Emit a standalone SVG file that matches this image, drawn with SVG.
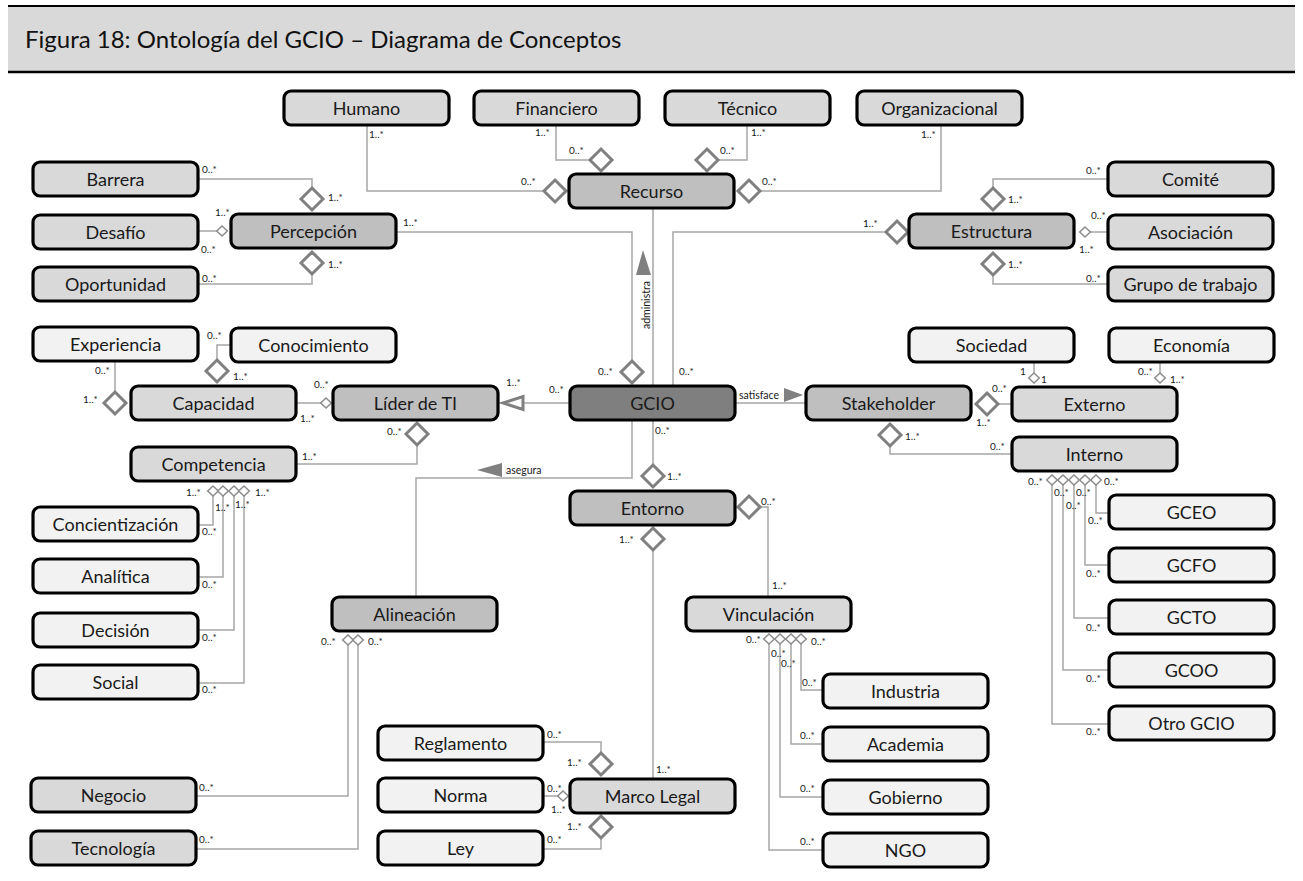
<svg xmlns="http://www.w3.org/2000/svg" xmlns:xlink="http://www.w3.org/1999/xlink" width="1303" height="881" viewBox="0 0 1303 881">
  <style>
    .n { stroke: #000; stroke-width: 3.2; }
    .c1 { fill: #f2f2f2; }
    .c2 { fill: #d9d9d9; }
    .c3 { fill: #bfbfbf; }
    .c4 { fill: #7f7f7f; }
    .t { font-family: Lato, "Liberation Sans", sans-serif; font-size: 18px; text-anchor: middle; fill: #1a1a1a; }
    .m { font-family: Lato, "Liberation Sans", sans-serif; font-size: 10px; fill: #1a1a1a; }
    .lbl { font-family: Lato, "Liberation Sans", sans-serif; font-size: 10.5px; fill: #1a1a1a; }
    .ln { fill: none; stroke: #a6a6a6; stroke-width: 1.5; }
    .bd { fill: #fff; stroke: #808080; stroke-width: 3; }
    .sd { fill: #fff; stroke: #8c8c8c; stroke-width: 1.5; }
    .arr { fill: #808080; stroke: none; }
    .gen { fill: #fff; stroke: #808080; stroke-width: 3; }
    .title { font-family: Lato, "Liberation Sans", sans-serif; font-size: 24px; fill: #111; }
  </style>
  <defs>
    <!-- aggregation diamonds: big and small -->
    <path id="bd" d="M0,-11 L11,0 L0,11 L-11,0 Z"/>
    <path id="sd" d="M0,-5 L5.3,0 L0,5 L-5.3,0 Z"/>
    <rect id="box" x="1" y="1" width="165" height="34" rx="7" ry="7"/>
  </defs>

  <rect width="1303" height="881" fill="#fff"/>

  <!-- header band -->
  <g id="header">
    <rect x="8" y="6" width="1287" height="66" fill="#d9d9d9"/>
    <line x1="8" y1="6" x2="1295" y2="6" stroke="#000" stroke-width="2"/>
    <line x1="8" y1="72" x2="1295" y2="72" stroke="#000" stroke-width="2.5"/>
    <text class="title" x="25" y="48">Figura 18: Ontología del GCIO – Diagrama de Conceptos</text>
  </g>

  <!-- connectors -->
  <g id="connectors">
    <path class="ln" d="M367,126 V191 H543"/>
    <path class="ln" d="M556,126 V160 H590"/>
    <path class="ln" d="M747,126 V160 H718"/>
    <path class="ln" d="M941,126 V191 H761"/>
    <path class="ln" d="M197,179 H312 V188"/>
    <path class="ln" d="M197,231 H217"/>
    <path class="ln" d="M312,274 V284 H197"/>
    <path class="ln" d="M395,232 H632 V361"/>
    <path class="ln" d="M653,209 V385"/>
    <path class="ln" d="M673,385 V232 H886"/>
    <path class="ln" d="M1107,179 H993 V188"/>
    <path class="ln" d="M1090,232 H1107"/>
    <path class="ln" d="M993,275 V284 H1107"/>
    <path class="ln" d="M115,362 V392"/>
    <path class="ln" d="M217,360 V345 H230"/>
    <path class="ln" d="M297,403 H321"/>
    <path class="ln" d="M417,445 V464 H297"/>
    <path class="ln" d="M569,403 H524"/>
    <path class="ln" d="M735,403 H805"/>
    <path class="ln" d="M632,421 V478 H416 V596"/>
    <path class="ln" d="M653,421 V465"/>
    <path class="ln" d="M760,507 H768 V596"/>
    <path class="ln" d="M653,550 V778"/>
    <path class="ln" d="M544,742 H601 V753"/>
    <path class="ln" d="M544,796 H558"/>
    <path class="ln" d="M601,838 V849 H544"/>
    <path class="ln" d="M769,644 V850 H822"/>
    <path class="ln" d="M780,644 V797 H822"/>
    <path class="ln" d="M791,644 V744 H822"/>
    <path class="ln" d="M801,644 V690 H822"/>
    <path class="ln" d="M1052,485 V724 H1108"/>
    <path class="ln" d="M1063,485 V670 H1108"/>
    <path class="ln" d="M1074,485 V618 H1108"/>
    <path class="ln" d="M1085,485 V565 H1108"/>
    <path class="ln" d="M1096,485 V513 H1108"/>
    <path class="ln" d="M998,404 H1011"/>
    <path class="ln" d="M890,446 V454 H1011"/>
    <path class="ln" d="M1034,363 V373"/>
    <path class="ln" d="M1160,363 V373"/>
    <path class="ln" d="M213,496 V525 H198"/>
    <path class="ln" d="M223,496 V577 H198"/>
    <path class="ln" d="M234,496 V630 H198"/>
    <path class="ln" d="M244,496 V683 H198"/>
    <path class="ln" d="M348,645 V796 H196"/>
    <path class="ln" d="M358,645 V849 H196"/>

    <!-- big aggregation diamonds -->
    <use xlink:href="#bd" class="bd" x="555" y="191"/>
    <use xlink:href="#bd" class="bd" x="601" y="160"/>
    <use xlink:href="#bd" class="bd" x="707" y="160"/>
    <use xlink:href="#bd" class="bd" x="749" y="191"/>
    <use xlink:href="#bd" class="bd" x="312" y="199"/>
    <use xlink:href="#bd" class="bd" x="312" y="263"/>
    <use xlink:href="#bd" class="bd" x="632" y="372"/>
    <use xlink:href="#bd" class="bd" x="897" y="232"/>
    <use xlink:href="#bd" class="bd" x="993" y="199"/>
    <use xlink:href="#bd" class="bd" x="993" y="264"/>
    <use xlink:href="#bd" class="bd" x="115" y="403"/>
    <use xlink:href="#bd" class="bd" x="217" y="371"/>
    <use xlink:href="#bd" class="bd" x="417" y="434"/>
    <use xlink:href="#bd" class="bd" x="653" y="476"/>
    <use xlink:href="#bd" class="bd" x="749" y="507"/>
    <use xlink:href="#bd" class="bd" x="653" y="539"/>
    <use xlink:href="#bd" class="bd" x="601" y="764"/>
    <use xlink:href="#bd" class="bd" x="601" y="827"/>
    <use xlink:href="#bd" class="bd" x="987" y="404"/>
    <use xlink:href="#bd" class="bd" x="890" y="435"/>

    <!-- small aggregation diamonds -->
    <use xlink:href="#sd" class="sd" x="222" y="231"/>
    <use xlink:href="#sd" class="sd" x="1085" y="232"/>
    <use xlink:href="#sd" class="sd" x="326" y="403"/>
    <use xlink:href="#sd" class="sd" x="563" y="796"/>
    <use xlink:href="#sd" class="sd" x="1034" y="378"/>
    <use xlink:href="#sd" class="sd" x="1160" y="378"/>
    <use xlink:href="#sd" class="sd" x="769" y="639"/>
    <use xlink:href="#sd" class="sd" x="780" y="639"/>
    <use xlink:href="#sd" class="sd" x="791" y="639"/>
    <use xlink:href="#sd" class="sd" x="801" y="639"/>
    <use xlink:href="#sd" class="sd" x="1052" y="480"/>
    <use xlink:href="#sd" class="sd" x="1063" y="480"/>
    <use xlink:href="#sd" class="sd" x="1074" y="480"/>
    <use xlink:href="#sd" class="sd" x="1085" y="480"/>
    <use xlink:href="#sd" class="sd" x="1096" y="480"/>
    <use xlink:href="#sd" class="sd" x="213" y="491"/>
    <use xlink:href="#sd" class="sd" x="223" y="491"/>
    <use xlink:href="#sd" class="sd" x="234" y="491"/>
    <use xlink:href="#sd" class="sd" x="244" y="491"/>
    <use xlink:href="#sd" class="sd" x="348" y="640"/>
    <use xlink:href="#sd" class="sd" x="358" y="640"/>

    <!-- generalization GCIO -> Líder de TI -->
    <path class="gen" d="M503,403 L523,396.5 L523,409.5 Z"/>

    <!-- named associations with direction arrows -->
    <path class="arr" d="M643,250 L651,275 L636,275 Z"/>
    <text class="lbl" transform="translate(650,329) rotate(-90)">administra</text>
    <path class="arr" d="M803,395 L784,388 L784,402 Z"/>
    <text class="lbl" x="739" y="399">satisface</text>
    <path class="arr" d="M477,470 L502,463 L502,477 Z"/>
    <text class="lbl" x="506" y="474">asegura</text>

    <!-- multiplicities -->
    <g class="m">
      <text x="369" y="138">1..*</text><text x="521" y="185">0..*</text>
      <text x="535" y="136">1..*</text><text x="569" y="154">0..*</text>
      <text x="751" y="136">1..*</text><text x="720" y="154">0..*</text>
      <text x="921" y="138">1..*</text><text x="762" y="185">0..*</text>
      <text x="202" y="173">0..*</text><text x="328" y="201">1..*</text>
      <text x="215" y="216">1..*</text><text x="201" y="253">0..*</text>
      <text x="328" y="268">1..*</text><text x="202" y="282">0..*</text>
      <text x="403" y="226">1..*</text><text x="598" y="375">0..*</text>
      <text x="863" y="227">1..*</text><text x="679" y="375">0..*</text>
      <text x="1086" y="174">0..*</text><text x="1008" y="203">1..*</text>
      <text x="1091" y="219">0..*</text><text x="1079" y="253">1..*</text>
      <text x="1008" y="268">1..*</text><text x="1086" y="282">0..*</text>
      <text x="95" y="374">0..*</text><text x="83" y="403">1..*</text>
      <text x="207" y="339">0..*</text><text x="233" y="380">1..*</text>
      <text x="314" y="388">0..*</text><text x="300" y="422">1..*</text>
      <text x="387" y="435">0..*</text><text x="302" y="460">1..*</text>
      <text x="549" y="393">0..*</text><text x="506" y="386">1..*</text>
      <text x="655" y="434">0..*</text><text x="667" y="480">1..*</text>
      <text x="761" y="505">0..*</text><text x="772" y="589">1..*</text>
      <text x="619" y="543">1..*</text><text x="656" y="773">1..*</text>
      <text x="547" y="738">0..*</text><text x="567" y="766">1..*</text>
      <text x="547" y="792">0..*</text><text x="551" y="813">1..*</text>
      <text x="567" y="830">1..*</text><text x="547" y="843">0..*</text>
      <text x="746" y="643">0..*</text><text x="811" y="645">0..*</text>
      <text x="771" y="657">0..*</text><text x="781" y="667">0..*</text>
      <text x="802" y="686">0..*</text><text x="800" y="739">0..*</text>
      <text x="800" y="792">0..*</text><text x="800" y="845">0..*</text>
      <text x="1028" y="485">0..*</text><text x="1104" y="485">0..*</text>
      <text x="1054" y="496">0..*</text><text x="1066" y="509">0..*</text>
      <text x="1076" y="496">0..*</text>
      <text x="1088" y="524">0..*</text><text x="1086" y="577">0..*</text>
      <text x="1086" y="631">0..*</text><text x="1086" y="682">0..*</text>
      <text x="1086" y="735">0..*</text>
      <text x="992" y="392">0..*</text><text x="976" y="426">1..*</text>
      <text x="905" y="440">1..*</text><text x="990" y="450">0..*</text>
      <text x="1020" y="375">1</text><text x="1041" y="383">1</text>
      <text x="1138" y="375">0..*</text><text x="1170" y="383">1..*</text>
      <text x="186" y="496">1..*</text><text x="255" y="496">1..*</text>
      <text x="215" y="511">1..*</text><text x="235" y="508">1..*</text>
      <text x="202" y="535">0..*</text><text x="202" y="588">0..*</text>
      <text x="202" y="641">0..*</text><text x="202" y="693">0..*</text>
      <text x="321" y="645">0..*</text><text x="368" y="645">0..*</text>
      <text x="199" y="791">0..*</text><text x="199" y="843">0..*</text>
    </g>
  </g>

  <!-- nodes -->
  <g id="n-humano" transform="translate(283,90)"><use xlink:href="#box" class="n c2"/><text class="t" x="83.5" y="24.5">Humano</text></g>
  <g id="n-financiero" transform="translate(473,90)"><use xlink:href="#box" class="n c2"/><text class="t" x="83.5" y="24.5">Financiero</text></g>
  <g id="n-tecnico" transform="translate(664,90)"><use xlink:href="#box" class="n c2"/><text class="t" x="83.5" y="24.5">Técnico</text></g>
  <g id="n-organizacional" transform="translate(856,90)"><use xlink:href="#box" class="n c2"/><text class="t" x="83.5" y="24.5">Organizacional</text></g>
  <g id="n-recurso" transform="translate(568,173)"><use xlink:href="#box" class="n c3"/><text class="t" x="83.5" y="24.5">Recurso</text></g>
  <g id="n-barrera" transform="translate(32,161)"><use xlink:href="#box" class="n c2"/><text class="t" x="83.5" y="24.5">Barrera</text></g>
  <g id="n-desafio" transform="translate(32,214)"><use xlink:href="#box" class="n c2"/><text class="t" x="83.5" y="24.5">Desafío</text></g>
  <g id="n-oportunidad" transform="translate(32,266)"><use xlink:href="#box" class="n c2"/><text class="t" x="83.5" y="24.5">Oportunidad</text></g>
  <g id="n-percepcion" transform="translate(230,213)"><use xlink:href="#box" class="n c3"/><text class="t" x="83.5" y="24.5">Percepción</text></g>
  <g id="n-estructura" transform="translate(908,213)"><use xlink:href="#box" class="n c3"/><text class="t" x="83.5" y="24.5">Estructura</text></g>
  <g id="n-comite" transform="translate(1107,161)"><use xlink:href="#box" class="n c2"/><text class="t" x="83.5" y="24.5">Comité</text></g>
  <g id="n-asociacion" transform="translate(1107,214)"><use xlink:href="#box" class="n c2"/><text class="t" x="83.5" y="24.5">Asociación</text></g>
  <g id="n-grupo" transform="translate(1107,266)"><use xlink:href="#box" class="n c2"/><text class="t" x="83.5" y="24.5">Grupo de trabajo</text></g>
  <g id="n-experiencia" transform="translate(32,326)"><use xlink:href="#box" class="n c1"/><text class="t" x="83.5" y="24.5">Experiencia</text></g>
  <g id="n-conocimiento" transform="translate(230,327)"><use xlink:href="#box" class="n c1"/><text class="t" x="83.5" y="24.5">Conocimiento</text></g>
  <g id="n-capacidad" transform="translate(130,385)"><use xlink:href="#box" class="n c2"/><text class="t" x="83.5" y="24.5">Capacidad</text></g>
  <g id="n-lider" transform="translate(332,385)"><use xlink:href="#box" class="n c3"/><text class="t" x="83.5" y="24.5">Líder de TI</text></g>
  <g id="n-gcio" transform="translate(569,385)"><use xlink:href="#box" class="n c4"/><text class="t" x="83.5" y="24.5">GCIO</text></g>
  <g id="n-stakeholder" transform="translate(805,385)"><use xlink:href="#box" class="n c3"/><text class="t" x="83.5" y="24.5">Stakeholder</text></g>
  <g id="n-sociedad" transform="translate(908,327)"><use xlink:href="#box" class="n c1"/><text class="t" x="83.5" y="24.5">Sociedad</text></g>
  <g id="n-economia" transform="translate(1108,327)"><use xlink:href="#box" class="n c1"/><text class="t" x="83.5" y="24.5">Economía</text></g>
  <g id="n-externo" transform="translate(1011,386)"><use xlink:href="#box" class="n c2"/><text class="t" x="83.5" y="24.5">Externo</text></g>
  <g id="n-interno" transform="translate(1011,436)"><use xlink:href="#box" class="n c2"/><text class="t" x="83.5" y="24.5">Interno</text></g>
  <g id="n-competencia" transform="translate(130,446)"><use xlink:href="#box" class="n c2"/><text class="t" x="83.5" y="24.5">Competencia</text></g>
  <g id="n-concientizacion" transform="translate(32,506)"><use xlink:href="#box" class="n c1"/><text class="t" x="83.5" y="24.5">Concientización</text></g>
  <g id="n-analitica" transform="translate(32,558)"><use xlink:href="#box" class="n c1"/><text class="t" x="83.5" y="24.5">Analítica</text></g>
  <g id="n-decision" transform="translate(32,612)"><use xlink:href="#box" class="n c1"/><text class="t" x="83.5" y="24.5">Decisión</text></g>
  <g id="n-social" transform="translate(32,664)"><use xlink:href="#box" class="n c1"/><text class="t" x="83.5" y="24.5">Social</text></g>
  <g id="n-entorno" transform="translate(569,490)"><use xlink:href="#box" class="n c3"/><text class="t" x="83.5" y="24.5">Entorno</text></g>
  <g id="n-gceo" transform="translate(1108,494)"><use xlink:href="#box" class="n c1"/><text class="t" x="83.5" y="24.5">GCEO</text></g>
  <g id="n-gcfo" transform="translate(1108,547)"><use xlink:href="#box" class="n c1"/><text class="t" x="83.5" y="24.5">GCFO</text></g>
  <g id="n-gcto" transform="translate(1108,599)"><use xlink:href="#box" class="n c1"/><text class="t" x="83.5" y="24.5">GCTO</text></g>
  <g id="n-gcoo" transform="translate(1108,652)"><use xlink:href="#box" class="n c1"/><text class="t" x="83.5" y="24.5">GCOO</text></g>
  <g id="n-otro" transform="translate(1108,705)"><use xlink:href="#box" class="n c1"/><text class="t" x="83.5" y="24.5">Otro GCIO</text></g>
  <g id="n-alineacion" transform="translate(331,596)"><use xlink:href="#box" class="n c3"/><text class="t" x="83.5" y="24.5">Alineación</text></g>
  <g id="n-vinculacion" transform="translate(685,596)"><use xlink:href="#box" class="n c2"/><text class="t" x="83.5" y="24.5">Vinculación</text></g>
  <g id="n-industria" transform="translate(822,673)"><use xlink:href="#box" class="n c1"/><text class="t" x="83.5" y="24.5">Industria</text></g>
  <g id="n-academia" transform="translate(822,726)"><use xlink:href="#box" class="n c1"/><text class="t" x="83.5" y="24.5">Academia</text></g>
  <g id="n-gobierno" transform="translate(822,779)"><use xlink:href="#box" class="n c1"/><text class="t" x="83.5" y="24.5">Gobierno</text></g>
  <g id="n-ngo" transform="translate(822,832)"><use xlink:href="#box" class="n c1"/><text class="t" x="83.5" y="24.5">NGO</text></g>
  <g id="n-reglamento" transform="translate(377,725)"><use xlink:href="#box" class="n c1"/><text class="t" x="83.5" y="24.5">Reglamento</text></g>
  <g id="n-norma" transform="translate(377,777)"><use xlink:href="#box" class="n c1"/><text class="t" x="83.5" y="24.5">Norma</text></g>
  <g id="n-ley" transform="translate(377,830)"><use xlink:href="#box" class="n c1"/><text class="t" x="83.5" y="24.5">Ley</text></g>
  <g id="n-marco" transform="translate(569,778)"><use xlink:href="#box" class="n c2"/><text class="t" x="83.5" y="24.5">Marco Legal</text></g>
  <g id="n-negocio" transform="translate(30,777)"><use xlink:href="#box" class="n c2"/><text class="t" x="83.5" y="24.5">Negocio</text></g>
  <g id="n-tecnologia" transform="translate(30,830)"><use xlink:href="#box" class="n c2"/><text class="t" x="83.5" y="24.5">Tecnología</text></g>
</svg>
